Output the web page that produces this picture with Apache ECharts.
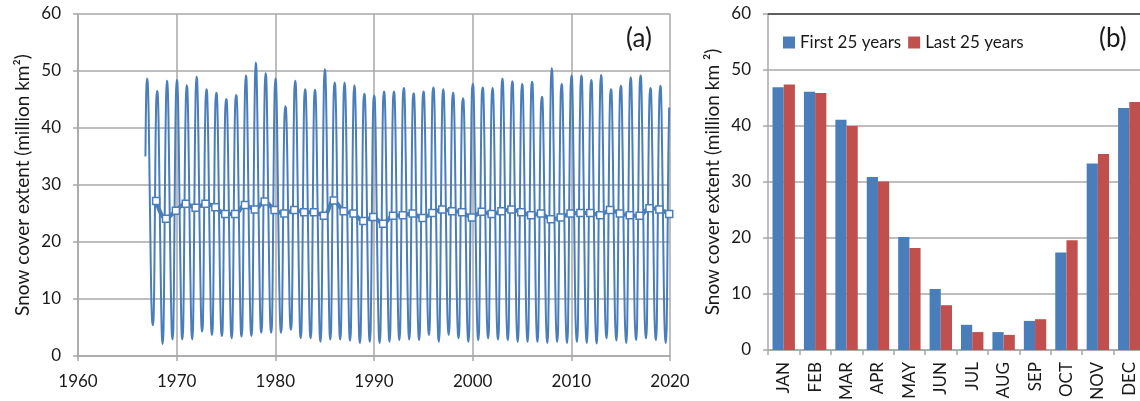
<!DOCTYPE html>
<html>
<head>
<meta charset="utf-8">
<script src="https://cdn.jsdelivr.net/npm/echarts@6.0.0/dist/echarts.min.js"></script>
<style>
html,body{margin:0;padding:0;background:#fff;}
#chart{width:1140px;height:401px;}
</style>
</head>
<body>
<div id="chart"></div>
<script>
// ---------- Panel (a): monthly snow cover extent ----------
// Nov and Dec 1966 (first two months of the record)
const monthly1966 = [35.0, 46.5];
const years = [1967,1968,1969,1970,1971,1972,1973,1974,1975,1976,1977,1978,1979,1980,1981,1982,1983,1984,1985,1986,1987,1988,1989,1990,1991,1992,1993,1994,1995,1996,1997,1998,1999,2000,2001,2002,2003,2004,2005,2006,2007,2008,2009,2010,2011,2012,2013,2014,2015,2016,2017,2018,2019];
// rows: Jan..Dec for each year above
const monthlyExtent = [
[48.7,47.6,41.5,31.5,21.0,11.5,6.5,5.4,6.8,16.5,33.0,44.0],
[46.5,46.0,41.0,30.5,20.0,10.5,3.5,2.1,4.5,17.0,33.5,44.5],
[48.3,47.5,42.0,31.0,20.5,11.0,4.2,2.9,5.0,18.0,34.0,45.0],
[48.4,47.8,42.5,32.0,21.0,11.5,4.0,2.9,5.3,17.5,33.5,44.0],
[47.5,47.0,41.5,31.5,20.5,11.0,4.2,2.9,5.5,18.0,34.0,45.5],
[49.0,48.2,42.5,32.0,21.5,12.0,5.5,4.3,6.0,18.5,34.5,44.0],
[46.8,46.3,41.0,31.5,20.5,11.5,4.8,3.7,5.5,17.5,33.5,44.0],
[46.2,45.8,40.5,30.5,20.0,10.5,4.6,3.5,5.0,17.0,33.0,43.0],
[45.1,44.8,40.0,30.5,20.0,10.5,4.2,3.1,5.2,17.5,33.5,43.5],
[45.8,45.5,41.5,31.5,21.0,11.5,4.5,3.4,5.5,18.5,35.0,46.0],
[49.2,48.5,41.5,31.0,20.0,10.5,4.6,3.5,5.5,17.5,34.0,46.5],
[51.5,50.5,43.5,32.5,21.5,11.5,5.2,4.1,6.0,18.0,34.5,46.5],
[49.6,48.8,42.0,31.0,20.5,11.0,5.2,4.1,5.8,17.5,33.5,45.5],
[48.7,47.8,41.5,31.0,20.0,11.0,5.2,4.1,5.8,17.0,32.5,41.5],
[43.8,43.5,39.0,30.5,20.5,11.5,5.6,4.6,6.2,18.5,34.5,46.0],
[48.3,47.5,41.5,31.0,20.5,11.0,4.2,3.1,5.3,17.5,33.5,44.5],
[46.8,46.2,41.0,31.0,20.0,10.5,4.2,3.1,5.0,17.0,33.0,44.5],
[46.7,46.0,40.5,30.0,19.5,10.0,3.6,2.5,5.0,17.5,34.0,47.0],
[50.3,49.5,43.0,32.5,21.5,11.5,4.0,2.9,5.5,19.0,36.0,46.0],
[48.0,47.2,41.5,31.0,20.0,10.5,4.0,2.9,5.0,17.5,34.0,45.5],
[48.0,47.0,41.0,30.5,19.5,10.0,3.8,2.7,5.0,18.0,34.5,45.0],
[47.5,46.5,40.0,29.5,18.5,9.5,3.4,2.3,4.8,17.5,33.5,44.0],
[46.0,45.5,40.0,30.0,19.5,10.0,3.6,2.5,5.0,18.0,34.0,44.0],
[45.7,45.0,39.0,28.5,18.0,9.0,3.4,2.3,4.8,17.5,33.5,44.5],
[46.4,45.8,40.5,30.0,19.0,9.5,3.6,2.5,5.2,18.5,34.5,44.5],
[46.4,45.8,40.5,30.0,19.0,9.5,3.8,2.8,5.5,19.0,34.5,45.0],
[47.0,46.5,40.5,30.5,19.5,10.0,4.0,2.9,5.5,18.5,34.0,44.5],
[46.1,45.5,40.0,30.0,18.5,9.0,3.8,2.8,5.2,18.5,34.5,44.5],
[46.4,45.8,40.0,30.0,19.0,9.5,4.6,3.7,6.0,19.5,35.0,45.5],
[47.1,46.5,40.5,30.5,19.5,9.0,3.5,2.5,5.3,19.0,34.5,44.5],
[46.8,46.0,40.0,30.0,19.0,9.0,4.6,3.7,6.0,19.5,35.0,44.5],
[46.2,45.5,40.0,29.5,18.0,8.5,4.0,3.1,5.5,19.0,34.0,43.5],
[45.2,44.8,39.5,29.5,18.0,8.0,3.4,2.5,5.3,19.5,35.0,46.0],
[47.7,47.0,40.5,30.0,18.5,8.5,3.6,2.8,5.5,19.5,35.0,45.5],
[47.1,46.5,40.0,29.5,18.0,8.5,4.0,3.1,5.8,19.5,35.0,45.0],
[47.0,46.2,40.0,29.5,18.5,8.5,3.8,2.9,5.5,20.0,35.5,46.5],
[48.7,47.8,41.0,30.5,18.5,8.0,3.6,2.8,5.8,20.5,35.5,46.0],
[48.2,47.5,40.5,30.0,18.5,8.0,3.4,2.5,5.5,19.5,35.0,45.5],
[47.7,47.0,40.0,29.5,18.0,8.0,3.4,2.5,5.5,19.0,35.0,46.0],
[48.1,47.5,40.5,30.0,18.5,8.0,3.4,2.5,5.5,19.5,35.0,43.5],
[45.5,45.0,39.0,29.0,17.5,7.5,3.2,2.3,5.3,19.5,35.5,47.5],
[50.5,49.5,41.5,30.0,18.0,7.5,3.4,2.5,5.5,20.0,35.0,45.5],
[47.7,47.2,40.5,30.0,18.0,7.5,3.2,2.3,5.3,19.5,35.5,46.5],
[49.2,48.5,41.0,30.0,17.5,7.0,3.4,2.5,5.5,20.0,36.0,46.5],
[49.2,48.5,40.5,29.5,18.0,7.5,3.2,2.3,5.5,20.0,35.5,46.0],
[48.4,47.8,40.0,29.0,17.0,7.0,3.1,2.2,5.3,20.5,36.0,46.5],
[49.3,48.5,41.5,31.0,18.5,8.0,4.0,3.1,6.0,21.0,36.0,45.0],
[46.8,46.3,40.0,29.5,18.0,7.5,3.6,2.7,5.8,20.5,36.0,45.5],
[47.4,46.8,39.5,29.0,17.0,7.0,3.2,2.3,5.5,20.0,35.5,46.5],
[48.9,48.0,40.5,29.5,17.5,7.0,3.6,2.8,5.8,20.5,36.0,47.0],
[49.2,48.5,41.0,30.5,18.5,8.0,4.0,3.1,6.0,21.0,36.5,45.0],
[47.0,46.5,40.0,30.0,18.5,8.0,3.7,2.8,5.8,21.0,36.5,45.0],
[47.4,46.8,40.0,29.5,18.0,7.5,3.2,2.3,5.5,20.0,35.5,43.6]
];
// annual means, one per year above
const annualMean = [27.2,24.1,25.5,26.7,26.0,26.7,26.1,24.9,24.9,26.5,25.7,27.1,25.6,25.0,25.6,25.2,25.2,24.6,27.3,25.4,25.0,23.7,24.4,23.2,24.6,24.7,25.0,24.2,25.1,25.7,25.4,25.2,24.3,25.3,24.9,25.4,25.7,25.2,24.7,25.0,24.0,24.3,25.0,25.1,25.1,24.7,25.6,25.0,24.7,24.6,25.9,25.7,24.9];
const xTicksA = [1960,1970,1980,1990,2000,2010,2020];

// ---------- Panel (b): monthly climatology ----------
const months = ['JAN','FEB','MAR','APR','MAY','JUN','JUL','AUG','SEP','OCT','NOV','DEC'];
const first25 = [46.9,46.1,41.1,30.9,20.2,10.9,4.5,3.2,5.2,17.4,33.3,43.2];
const last25  = [47.4,45.9,40.0,30.1,18.2,8.0,3.2,2.7,5.5,19.6,35.0,44.3];

// build [x, y] pairs (x in decimal years, month placed at its start)
const monthlyPoints = [];
monthly1966.forEach((v, i) => monthlyPoints.push([1966 + (10 + i) / 12, v]));
years.forEach((y, r) => monthlyExtent[r].forEach((v, m) => monthlyPoints.push([y + m / 12, v])));
const annualPoints = years.map((y, i) => [y + 0.92, annualMean[i]]);

const FONT = 'Lato';
const TXT = '#1a1a1a';
const GRIDC = '#a8a8a8';
const BLUE = '#4a7ebb';
const RED = '#c0504d';
const FS = 17;

const chart = echarts.init(document.getElementById('chart'), null, {renderer: 'canvas'});
chart.setOption({
  animation: false,
  backgroundColor: '#fff',
  textStyle: {fontFamily: FONT},
  grid: [
    {left: 78, top: 14, width: 592, height: 342, containLabel: false, outerBoundsMode: 'none'},
    {left: 768, top: 14, width: 377, height: 336, containLabel: false, outerBoundsMode: 'none'}
  ],
  legend: {
    data: ['First 25 years', 'Last 25 years'],
    left: 778, top: 29,
    icon: 'rect', itemWidth: 12, itemHeight: 12, itemGap: 7,
    textStyle: {fontFamily: FONT, fontSize: 17, color: TXT},
    selectedMode: false
  },
  xAxis: [
    {
      type: 'value', gridIndex: 0, min: xTicksA[0], max: xTicksA[xTicksA.length - 1], interval: 10,
      axisLine: {show: true, lineStyle: {color: GRIDC, width: 1.5}},
      axisTick: {show: true, length: 5, lineStyle: {color: GRIDC, width: 1.5}},
      axisLabel: {fontFamily: FONT, fontSize: FS, color: TXT, margin: 17, showMinLabel: true, showMaxLabel: true,
                  formatter: v => String(v)},
      splitLine: {show: true, lineStyle: {color: GRIDC, width: 1.5}}
    },
    {
      type: 'category', gridIndex: 1, data: months,
      axisLine: {show: true, lineStyle: {color: GRIDC, width: 1.5}},
      axisTick: {show: true, length: 5, alignWithLabel: false, lineStyle: {color: GRIDC, width: 1.5}},
      axisLabel: {fontFamily: FONT, fontSize: FS, color: TXT, rotate: 90, margin: 12, interval: 0},
      splitLine: {show: false}
    },
    {
      type: 'value', gridIndex: 1, position: 'top', min: 0, max: 1,
      axisLine: {show: true, lineStyle: {color: '#404040', width: 1.5}},
      axisTick: {show: false}, axisLabel: {show: false}, splitLine: {show: false}
    }
  ],
  yAxis: [
    {
      type: 'value', gridIndex: 0, min: 0, max: 60, interval: 10,
      name: 'Snow cover extent (million km²)', nameLocation: 'middle', nameGap: 46, nameRotate: 90, nameMoveOverlap: false,
      nameTextStyle: {fontFamily: FONT, fontSize: 19, color: TXT},
      axisLine: {show: true, lineStyle: {color: GRIDC, width: 1.5}},
      axisTick: {show: true, length: 5, lineStyle: {color: GRIDC, width: 1.5}},
      axisLabel: {fontFamily: FONT, fontSize: FS, color: TXT, margin: 17},
      splitLine: {show: true, lineStyle: {color: GRIDC, width: 1.5}}
    },
    {
      type: 'value', gridIndex: 1, min: 0, max: 60, interval: 10,
      name: 'Snow cover extent (million km ²)', nameLocation: 'middle', nameGap: 46, nameRotate: 90, nameMoveOverlap: false,
      nameTextStyle: {fontFamily: FONT, fontSize: 19, color: TXT},
      axisLine: {show: true, lineStyle: {color: GRIDC, width: 1.5}},
      axisTick: {show: true, length: 5, lineStyle: {color: GRIDC, width: 1.5}},
      axisLabel: {fontFamily: FONT, fontSize: FS, color: TXT, margin: 17},
      splitLine: {show: true, lineStyle: {color: GRIDC, width: 1.5}}
    }
  ],
  graphic: [
    {type: 'text', left: 626, top: 26, style: {text: '(a)', fontFamily: FONT, fontSize: 26, fill: TXT}},
    {type: 'text', left: 1099, top: 26, style: {text: '(b)', fontFamily: FONT, fontSize: 26, fill: TXT}}
  ],
  series: [
    {
      name: 'Monthly', type: 'line', xAxisIndex: 0, yAxisIndex: 0,
      data: monthlyPoints, smooth: 0.35, showSymbol: false, symbol: 'none',
      lineStyle: {color: BLUE, width: 2}, z: 2
    },
    {
      name: 'Annual', type: 'line', xAxisIndex: 0, yAxisIndex: 0,
      data: annualPoints, smooth: 0.4, symbol: 'rect', symbolSize: 7, showSymbol: true,
      lineStyle: {color: BLUE, width: 4},
      itemStyle: {color: '#fff', borderColor: BLUE, borderWidth: 1.5}, z: 3
    },
    {
      name: 'First 25 years', type: 'bar', xAxisIndex: 1, yAxisIndex: 1,
      data: first25, barWidth: 11.2, barGap: '0%',
      itemStyle: {color: BLUE}
    },
    {
      name: 'Last 25 years', type: 'bar', xAxisIndex: 1, yAxisIndex: 1,
      data: last25, barWidth: 11.2, barGap: '0%',
      itemStyle: {color: RED}
    }
  ]
});
</script>
</body>
</html>
